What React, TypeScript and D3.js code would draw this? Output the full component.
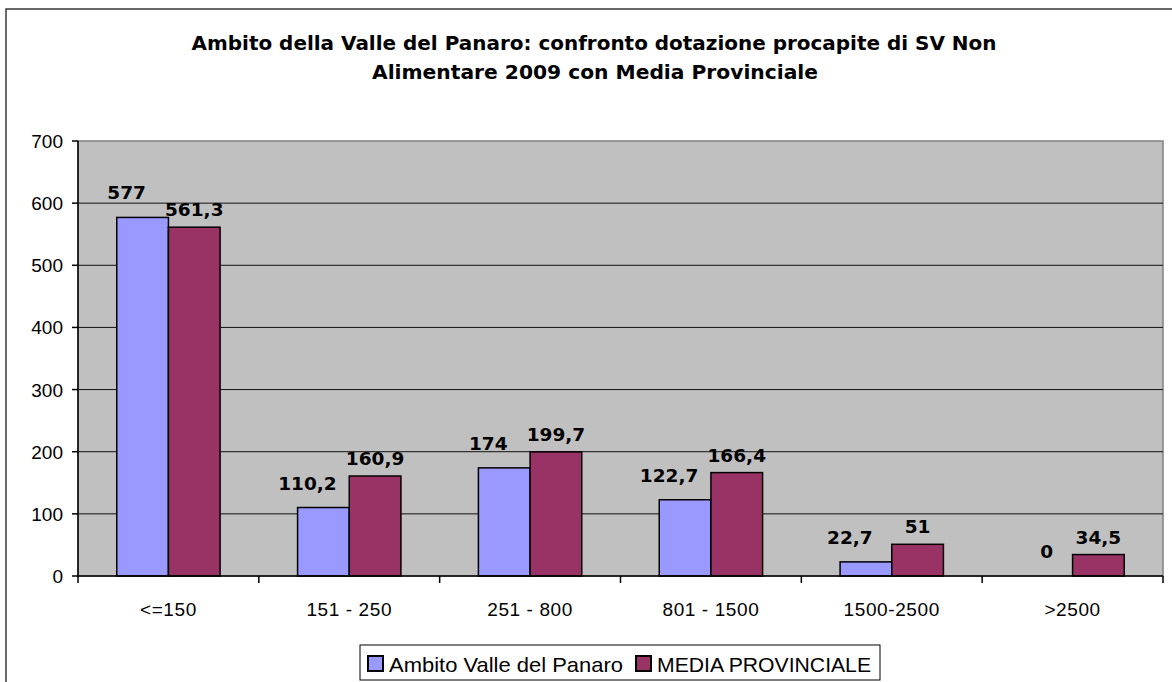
import React from "react";
import { scaleBand, scaleLinear } from "d3";

// chart data
const categories = ["<=150", "151 - 250", "251 - 800", "801 - 1500", "1500-2500", ">2500"];
const ambitoValues = [577, 110.2, 174, 122.7, 22.7, 0];
const mediaValues = [561.3, 160.9, 199.7, 166.4, 51, 34.5];
const yTicks = [0, 100, 200, 300, 400, 500, 600, 700];
const seriesNames = ["Ambito Valle del Panaro", "MEDIA PROVINCIALE"];
const titleLines = [
  "Ambito della Valle del Panaro: confronto dotazione procapite di SV Non",
  "Alimentare 2009 con Media Provinciale",
];

const W = 1172;
const H = 682;
const plot = { left: 78, right: 1163, top: 141, bottom: 576 };
const colors = ["#9999FF", "#993366"];

const fmt = (v: number) => String(v).replace(".", ",");

function App() {
  const x = scaleBand<string>()
    .domain(categories)
    .range([plot.left, plot.right])
    .paddingInner(0)
    .paddingOuter(0);
  const y = scaleLinear().domain([0, 700]).range([plot.bottom, plot.top]);

  const band = x.bandwidth();
  const barW = band / 3.5; // excel gap width 150%
  const series = [ambitoValues, mediaValues];

  const labelFont = "'DejaVu Sans', Verdana, sans-serif";
  const axisFont = "'Liberation Sans', Arial, sans-serif";

  return (
    <svg
      width={W}
      height={H}
      style={{ position: "absolute", left: 0, top: 0, background: "#fff" }}
    >
      {/* outer chart border */}
      <rect x={6} y={9} width={1180} height={700} fill="#fff" stroke="#3a3a3a" strokeWidth={1.5} />

      {/* title */}
      <text
        x={594}
        y={50}
        textAnchor="middle"
        fontFamily={labelFont}
        fontWeight="bold"
        fontSize={19.5}
        textLength={805}
        lengthAdjust="spacingAndGlyphs"
      >
        {titleLines[0]}
      </text>
      <text
        x={595}
        y={79}
        textAnchor="middle"
        fontFamily={labelFont}
        fontWeight="bold"
        fontSize={19.5}
        textLength={446}
        lengthAdjust="spacingAndGlyphs"
      >
        {titleLines[1]}
      </text>

      {/* plot area */}
      <rect
        x={plot.left}
        y={plot.top}
        width={plot.right - plot.left}
        height={plot.bottom - plot.top}
        fill="#C0C0C0"
        stroke="#808080"
        strokeWidth={1.5}
      />

      {/* gridlines */}
      {yTicks.slice(1, -1).map((t) => (
        <line
          key={"g" + t}
          x1={plot.left}
          x2={plot.right}
          y1={y(t)}
          y2={y(t)}
          stroke="#111"
          strokeWidth={1}
        />
      ))}

      {/* bars */}
      {categories.map((c, i) =>
        series.map((vals, s) => {
          const bx = (x(c) as number) + 0.75 * barW + s * barW;
          const v = vals[i];
          if (v <= 0) return null;
          return (
            <rect
              key={c + s}
              x={bx}
              y={y(v)}
              width={barW}
              height={y(0) - y(v)}
              fill={colors[s]}
              stroke="#000"
              strokeWidth={1.5}
            />
          );
        })
      )}

      {/* value labels */}
      {categories.map((c, i) =>
        series.map((vals, s) => {
          const v = vals[i];
          const cx = (x(c) as number) + 0.75 * barW + s * barW + barW / 2;
          const dx = s === 0 && v > 0 ? -16 : 0;
          const gap = s === 0 ? 18 : 11;
          return (
            <text
              key={"l" + c + s}
              x={cx + dx}
              y={y(v) - gap}
              textAnchor="middle"
              fontFamily={labelFont}
              fontWeight="bold"
              fontSize={18.5}
              fill="#000"
            >
              {fmt(v)}
            </text>
          );
        })
      )}

      {/* y axis */}
      <line x1={plot.left} x2={plot.left} y1={plot.top} y2={plot.bottom} stroke="#000" strokeWidth={1.5} />
      {yTicks.map((t) => (
        <g key={"y" + t}>
          <line x1={plot.left - 6} x2={plot.left} y1={y(t)} y2={y(t)} stroke="#000" strokeWidth={1.5} />
          <text
            x={63}
            y={y(t) + 7}
            textAnchor="end"
            fontFamily={axisFont}
            fontSize={19}
            fill="#000"
          >
            {t}
          </text>
        </g>
      ))}

      {/* x axis */}
      <line x1={plot.left} x2={plot.right} y1={plot.bottom} y2={plot.bottom} stroke="#000" strokeWidth={1.5} />
      {categories.map((c) => (
        <line
          key={"xt" + c}
          x1={x(c) as number}
          x2={x(c) as number}
          y1={plot.bottom}
          y2={plot.bottom + 7}
          stroke="#000"
          strokeWidth={1.5}
        />
      ))}
      <line x1={plot.right} x2={plot.right} y1={plot.bottom} y2={plot.bottom + 7} stroke="#000" strokeWidth={1.5} />
      {categories.map((c) => (
        <text
          key={"xl" + c}
          x={(x(c) as number) + band / 2}
          y={616}
          textAnchor="middle"
          fontFamily={axisFont}
          fontSize={19}
          letterSpacing={0.6}
          fill="#000"
        >
          {c}
        </text>
      ))}

      {/* legend */}
      <rect x={360} y={645} width={520} height={35} fill="#fff" stroke="#000" strokeWidth={1} />
      <rect x={368} y={656} width={15} height={15} fill={colors[0]} stroke="#000" strokeWidth={2} />
      <text x={389} y={672} fontFamily={axisFont} fontSize={21} textLength={234} lengthAdjust="spacingAndGlyphs">
        {seriesNames[0]}
      </text>
      <rect x={636} y={656} width={15} height={15} fill={colors[1]} stroke="#000" strokeWidth={2} />
      <text x={657} y={672} fontFamily={axisFont} fontSize={21} textLength={214} lengthAdjust="spacingAndGlyphs">
        {seriesNames[1]}
      </text>
    </svg>
  );
}

export default App;
